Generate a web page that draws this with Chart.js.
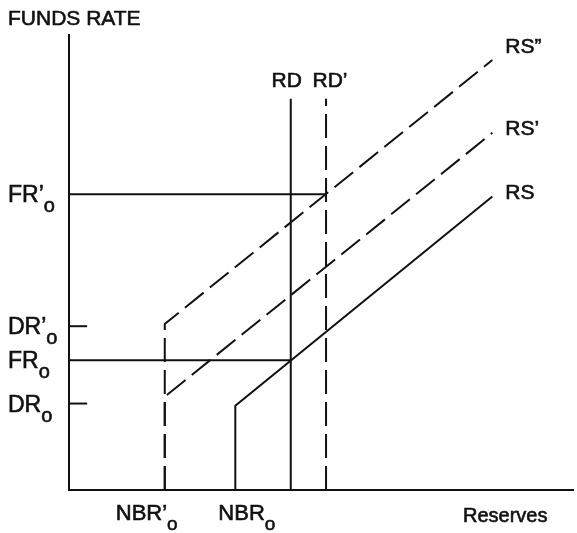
<!DOCTYPE html>
<html>
<head>
<meta charset="utf-8">
<script src="https://cdn.jsdelivr.net/npm/chart.js@4.4.0/dist/chart.umd.min.js"></script>
<style>
  body { margin: 0; background: #fff; }
</style>
</head>
<body>
<canvas id="chart" width="577" height="533"></canvas>
<script>
// reserves (x) and funds rate (y), arbitrary units 0..100
const rsX = [33, 33, 84];
const rsY = [0, 18.5, 64.5];
const rs1X = [19, 19, 84];
const rs1Y = [0, 20.5, 78.5];
const rs2X = [19, 19, 84];
const rs2Y = [0, 36.5, 94.5];
const rdX = [44, 44];
const rdY = [0, 86];
const rd1X = [51, 51];
const rd1Y = [0, 86];
const fr0X = [0, 44];
const fr0Y = [28.5, 28.5];
const fr1X = [0, 51];
const fr1Y = [65, 65];

// tick labels on the rate axis and the reserves axis
const yTickValues = [65, 36, 28.5, 19];
const yTickText = ['FR’', 'DR’', 'FR', 'DR'];
const yTickMarks = [36, 19];
const xTickValues = [19, 33];
const xTickText = ['NBR’', 'NBR'];

const FONT = '"Liberation Sans", Arial, sans-serif';

function pts(xs, ys) {
    return xs.map(function (x, i) { return { x: x, y: ys[i] }; });
}

function lineSet(xs, ys, dashed) {
    return {
        data: pts(xs, ys),
        showLine: true,
        borderColor: '#111',
        borderWidth: 2,
        borderDash: dashed ? [24, 8] : [],
        pointRadius: 0,
        fill: false,
        tension: 0
    };
}

const datasets = [
    lineSet(rsX, rsY, false),
    lineSet(rs1X, rs1Y, true),
    lineSet(rs2X, rs2Y, true),
    lineSet(rdX, rdY, false),
    lineSet(rd1X, rd1Y, true),
    lineSet(fr0X, fr0Y, false),
    lineSet(fr1X, fr1Y, false)
];
// short tick marks at DR'o and DRo
yTickMarks.forEach(function (v) {
    datasets.push(lineSet([0, 3.6], [v, v], false));
});

// slightly heavier text, like the scanned original
function txt(ctx, s, x, y) {
    ctx.fillText(s, x, y);
    ctx.strokeText(s, x, y);
}

// draws text with a subscript "o"
function subText(ctx, main, sub, x, y, size) {
    ctx.font = size + 'px ' + FONT;
    txt(ctx, main, x, y);
    const w = ctx.measureText(main).width;
    if (sub) {
        ctx.font = (size - 3) + 'px ' + FONT;
        txt(ctx, sub, x + w, y + 10);
    }
}

const labelPlugin = {
    id: 'labels',
    afterDraw: function (chart) {
        const ctx = chart.ctx;
        const xs = chart.scales.x, ys = chart.scales.y;
        ctx.save();
        ctx.fillStyle = '#111';
        ctx.strokeStyle = '#111';
        ctx.lineWidth = 0.6;
        ctx.textAlign = 'left';
        ctx.textBaseline = 'alphabetic';

        ctx.font = '21px ' + FONT;
        txt(ctx, 'FUNDS RATE', 8, 25);

        yTickValues.forEach(function (v, i) {
            subText(ctx, yTickText[i], 'o', 8, ys.getPixelForValue(v) + 8, 23);
        });

        const xOff = [-49, -17];
        xTickValues.forEach(function (v, i) {
            subText(ctx, xTickText[i], 'o', xs.getPixelForValue(v) + xOff[i], 520, 22);
        });

        ctx.font = '21px ' + FONT;
        ctx.textAlign = 'center';
        txt(ctx, 'RD', xs.getPixelForValue(rdX[0]) - 4, 87);
        txt(ctx, 'RD’', xs.getPixelForValue(rd1X[0]) + 4, 87);

        ctx.textAlign = 'left';
        const endX = xs.getPixelForValue(84) + 13;
        txt(ctx, 'RS”', endX, ys.getPixelForValue(rs2Y[2]) - 7);
        txt(ctx, 'RS’', endX, ys.getPixelForValue(rs1Y[2]) + 2);
        txt(ctx, 'RS', endX, ys.getPixelForValue(rsY[2]) + 2);

        ctx.font = '20px ' + FONT;
        txt(ctx, 'Reserves', 463, 522);
        ctx.restore();
    }
};

new Chart(document.getElementById('chart').getContext('2d'), {
    type: 'scatter',
    data: { datasets: datasets },
    options: {
        responsive: false,
        animation: false,
        layout: { padding: { left: 61, top: 35, right: 4, bottom: 35 } },
        plugins: { legend: { display: false }, tooltip: { enabled: false } },
        scales: {
            x: {
                type: 'linear', min: 0, max: 100,
                grid: { display: false },
                ticks: { display: false },
                border: { display: true, color: '#111', width: 2 }
            },
            y: {
                type: 'linear', min: 0, max: 100,
                grid: { display: false },
                ticks: { display: false },
                border: { display: true, color: '#111', width: 2 }
            }
        }
    },
    plugins: [labelPlugin]
});
</script>
</body>
</html>
